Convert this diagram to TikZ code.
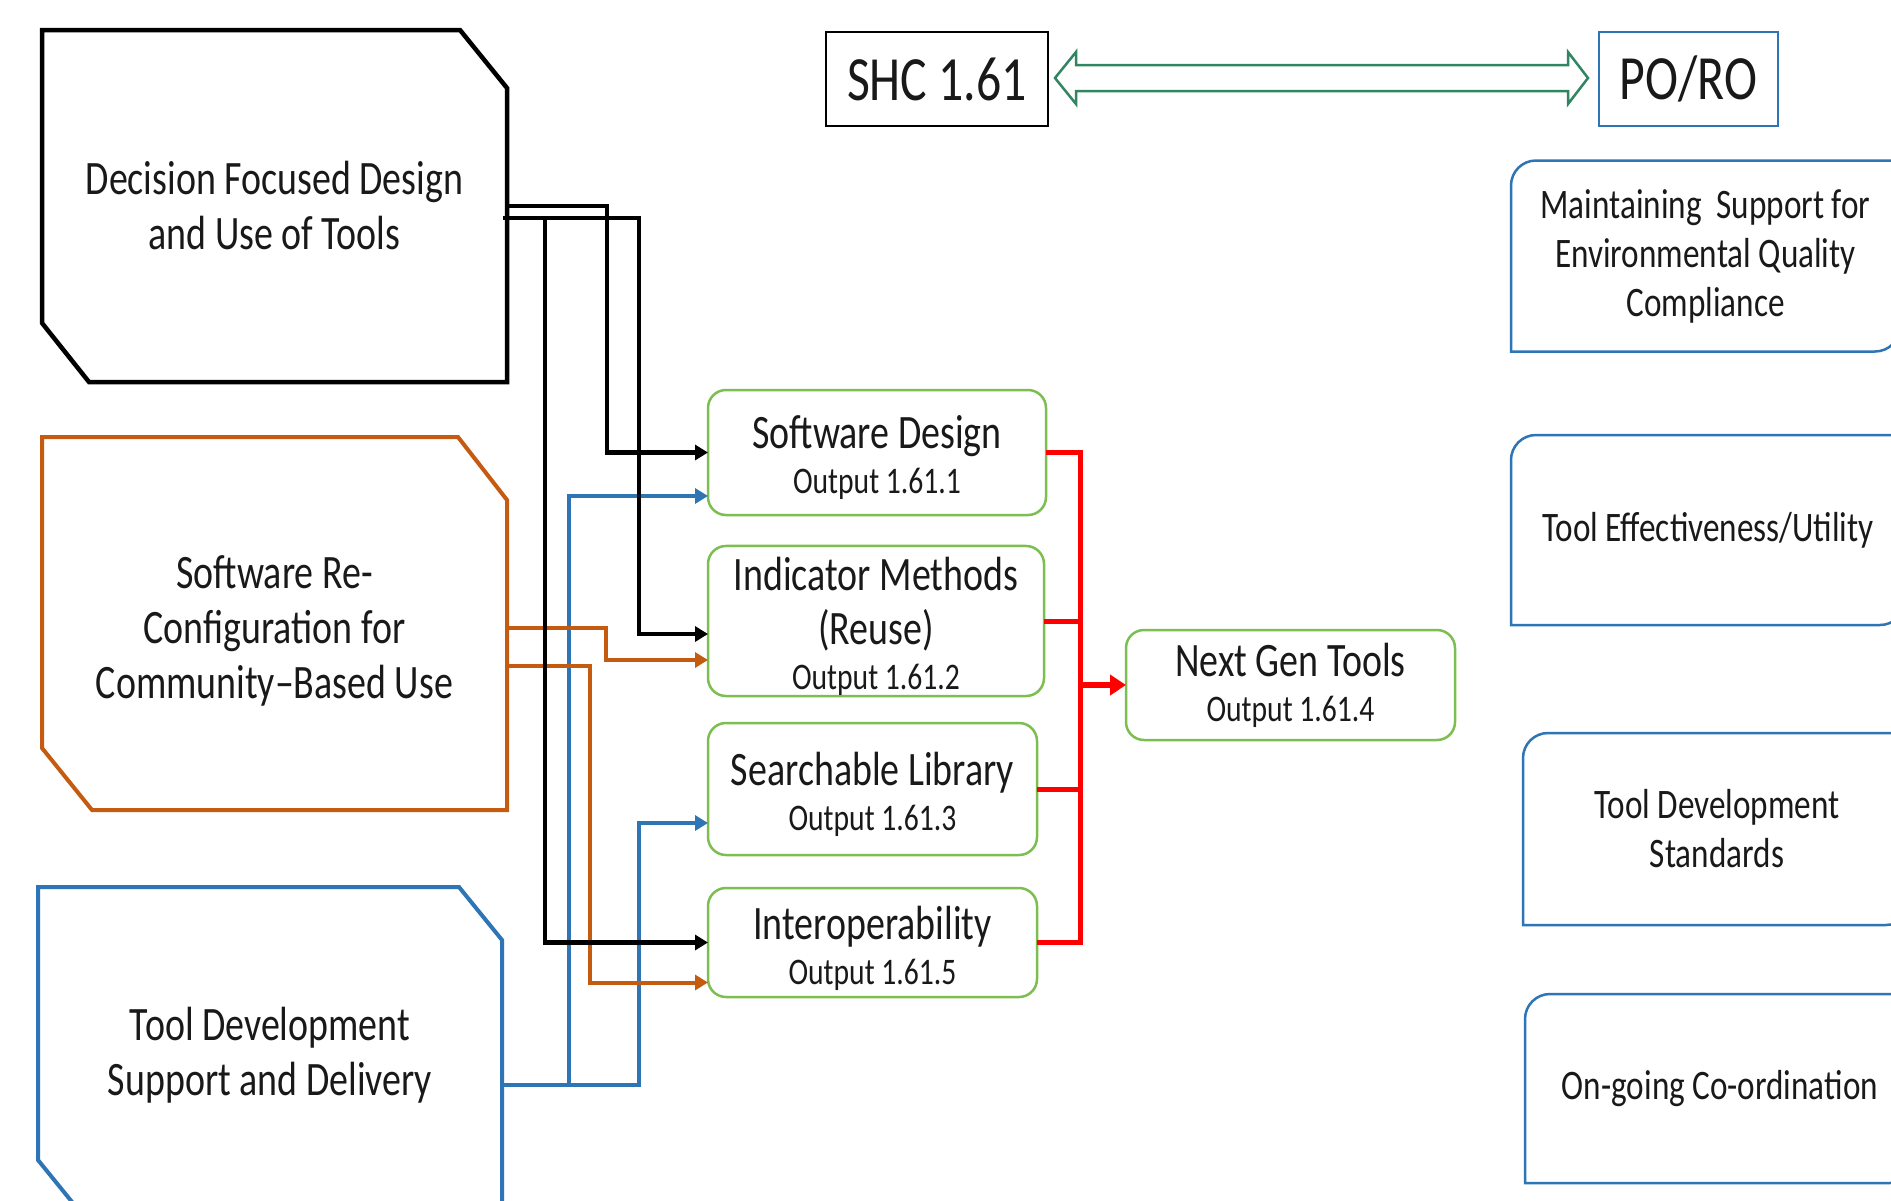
\documentclass[tikz,border=0pt]{standalone}
\usepackage{fontspec}
\setmainfont{Carlito}[FakeStretch=0.79]
\usetikzlibrary{arrows.meta,calc}
\definecolor{cOr}{RGB}{197,90,17}
\definecolor{cBl}{RGB}{46,117,182}
\definecolor{cGr}{RGB}{125,190,80}
\definecolor{cTeal}{RGB}{49,133,99}
\definecolor{cTx}{RGB}{25,25,25}
\newcommand\fsBig{\fontsize{48}{55}\selectfont}
\newcommand\fsG{\fontsize{48}{45}\selectfont}
\newcommand\fsOut{\fontsize{37.5}{42}\selectfont}
\newcommand\fsR{\fontsize{42}{49}\selectfont}
\newcommand\fsTop{\fontsize{63}{66}\selectfont}
\newcommand\liftTxt[1]{\rule{0pt}{#1pt}}
\begin{document}
\begin{tikzpicture}[x=1pt,y=-1pt,
  every node/.style={text=cTx, inner sep=0pt, outer sep=0pt},
  holder/.style={draw=none, align=center, font=\fsBig},
  gbox/.style={draw=cGr, line width=2.5pt, rounded corners=18pt, align=center, font=\fsG},
  rlab/.style={draw=none, align=center, font=\fsR},
  rb/.style={draw=cBl, line width=2.5pt},
  blk/.style={draw=black, line width=4.5pt},
  orl/.style={draw=cOr, line width=4pt},
  bll/.style={draw=cBl, line width=4pt},
  redl/.style={draw=red, line width=5pt},
  tip/.style={-{Triangle[length=13pt,width=15pt]}}
]
\useasboundingbox (0,0) rectangle (1891,1200);
\fill[white] (0,0) rectangle (1891,1200);
\clip (0,0) rectangle (1891,1200);

% ---- left chamfered boxes
\node[holder, minimum width=465pt, minimum height=352pt] (dec) at (274.5,206) {Decision Focused Design\\and Use of Tools};
\draw[black, line width=4.5pt] (dec.north west) -- ($(dec.north east)+(-47,0)$) -- ($(dec.north east)+(0,58)$) -- (dec.south east) -- ($(dec.south west)+(47,0)$) -- ($(dec.south west)+(0,-59)$) -- cycle;

\node[holder, minimum width=465pt, minimum height=373pt] (swr) at (274.5,623.5) {\liftTxt{47}Software Re-\\Configuration for\\Community–Based Use};
\draw[cOr, line width=4pt] (swr.north west) -- ($(swr.north east)+(-49,0)$) -- ($(swr.north east)+(0,63)$) -- (swr.south east) -- ($(swr.south west)+(50,0)$) -- ($(swr.south west)+(0,-62)$) -- cycle;

\node[holder, minimum width=464pt, minimum height=326pt] (tds) at (270,1050) {\liftTxt{43}Tool Development\\Support and Delivery};
\draw[cBl, line width=4pt] (tds.north west) -- ($(tds.north east)+(-43,0)$) -- ($(tds.north east)+(0,53)$) -- (tds.south east) -- ($(tds.south west)+(43,0)$) -- ($(tds.south west)+(0,-53)$) -- cycle;

% ---- top boxes
\node[draw=black, line width=2.5pt, minimum width=222pt, minimum height=94pt, font=\fsTop] (shc) at (937,79) {SHC 1.61};
\node[draw=cBl, line width=2pt, minimum width=179pt, minimum height=94pt, font=\fsTop] (poro) at (1688.5,79) {PO/RO};
\coordinate (La) at ($(shc.east)+(7,-1)$);
\coordinate (Ra) at ($(poro.west)+(-11,-1)$);
\draw[cTeal, line width=2.5pt, fill=white, line join=miter] (La) -- ++(21,-26) -- ++(0,13) -- ($(Ra)+(-20,-13)$) -- ++(0,-13) -- (Ra) -- ++(-20,26) -- ++(0,-13) -- ($(La)+(21,13)$) -- ++(0,13) -- cycle;

% ---- green output boxes
\node[gbox, minimum width=338pt, minimum height=125pt] (sd) at (877,452.5) {\liftTxt{44}Software Design\\{\fsOut Output 1.61.1}};
\node[gbox, minimum width=336pt, minimum height=146pt] (im) at (876,621) {\liftTxt{45}Indicator Methods\\[9pt](Reuse)\\{\fsOut Output 1.61.2}};
\node[gbox, minimum width=329pt, minimum height=132pt] (sl) at (872.5,789) {\liftTxt{44}Searchable Library\\{\fsOut Output 1.61.3}};
\node[gbox, minimum width=329pt, minimum height=109pt] (io) at (872.5,942.5) {\liftTxt{45}Interoperability\\{\fsOut Output 1.61.5}};
\node[gbox, minimum width=329pt, minimum height=110pt] (ng) at (1290.5,685) {Next Gen Tools\\{\fsOut Output 1.61.4}};

% ---- right boxes
\newcommand\rdbox[1]{\draw[rb] (#1.south west) -- ($(#1.north west)+(0,25)$) arc[start angle=180,end angle=270,radius=25] -- (#1.north east) -- ($(#1.south east)+(0,-25)$) arc[start angle=0,end angle=90,radius=25] -- cycle;}
\node[rlab, minimum width=389pt, minimum height=191pt] (mA) at (1705.5,256) {Maintaining~ Support for\\Environmental Quality\\Compliance};
\node[rlab, minimum width=394pt, minimum height=190pt] (mB) at (1708,530) {Tool Effectiveness/Utility};
\node[rlab, minimum width=388pt, minimum height=192pt] (mC) at (1717,829) {Tool Development\\Standards};
\node[rlab, minimum width=390pt, minimum height=189pt] (mD) at (1720,1088.5) {On-going Co-ordination};
\rdbox{mA}\rdbox{mB}\rdbox{mC}\rdbox{mD}

% ---- connectors
\draw[bll, tip] ($(tds.east)+(0,35)$) -| ($(sd.west)+(-139,43.5)$) -- ($(sd.west)+(0,43.5)$);
\draw[bll, tip] ($(tds.east)+(0,35)$) -| ($(sl.west)+(-69,34)$) -- ($(sl.west)+(0,34)$);

\draw[orl, tip] ($(swr.east)+(0,4)$) -| ($(im.west)+(-102,39)$) -- ($(im.west)+(0,39)$);
\draw[orl, tip] ($(swr.east)+(0,42)$) -| ($(io.west)+(-118,40)$) -- ($(io.west)+(0,40)$);

\draw[blk, tip] (dec.east) -| ($(sd.west)+(-101,0)$) -- (sd.west);
\draw[blk, tip] ($(dec.east)+(-4,12)$) -| ($(im.west)+(-69,13)$) -- ($(im.west)+(0,13)$);
\coordinate (bj) at ($(dec.east)+(38,12)$);
\draw[blk, tip] (bj) |- (io.west);

\coordinate (bus) at (1080,0);
\draw[redl] (sd.east) -| (io.east -| bus) -- (io.east);
\draw[redl] (im.east) -- (im.east -| bus);
\draw[redl] (sl.east) -- (sl.east -| bus);
\draw[red, line width=6pt, -{Triangle[length=16pt,width=20pt]}] (ng.west -| bus) -- (ng.west);
\end{tikzpicture}
\end{document}
